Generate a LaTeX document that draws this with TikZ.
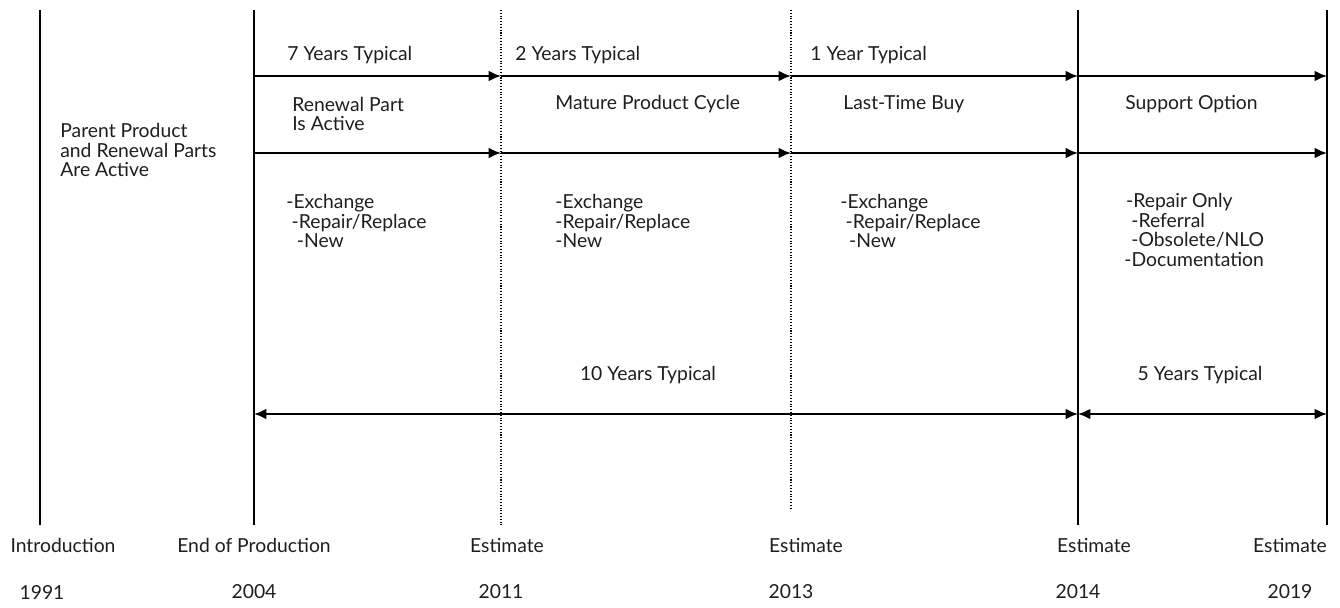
\documentclass[tikz,border=0pt]{standalone}
\usepackage{fontspec}
\setmainfont{Lato}
\usetikzlibrary{arrows.meta}
\definecolor{inktext}{RGB}{30, 30, 30}

\tikzset{
	phase/.style={line width=1.1pt, -{Latex[length=7pt, width=6pt]}},
	span/.style={line width=1.1pt, {Latex[length=7pt, width=6pt]}-{Latex[length=7pt, width=6pt]}},
	milestone/.style={line width=1.1pt},
	estimate/.style={line width=0.6pt, densely dotted},
	lbl/.style={anchor=west, inner sep=0pt, align=left, text=inktext, font=\fontsize{11}{11.2}\selectfont},
	tick/.style={inner sep=0pt, text=inktext, font=\fontsize{11}{11.2}\selectfont}
}

\begin{document}
\begin{tikzpicture}[x=0.02cm, y=-0.02cm]
			\useasboundingbox (0, 0) rectangle (1340, 608);
			% milestones
			\coordinate (intro) at (40, 0);
			\coordinate (eop) at (254, 0);
			\coordinate (est1) at (501, 0);
			\coordinate (est2) at (791, 0);
			\coordinate (est3) at (1078, 0);
			\coordinate (est4) at (1327, 0);
			\draw [milestone] (40, 10) -- (40, 525);
			\draw [milestone] (254, 10) -- (254, 525);
			\draw [estimate] (501, 10) -- (501, 525);
			\draw [estimate] (791, 10) -- (791, 510);
			\draw [milestone] (1078, 10) -- (1078, 525);
			\draw [milestone] (1327, 10) -- (1327, 525);

			% phase arrows
			\foreach \y in {76, 153}{
				\draw [phase] ([yshift=-\y*0.02cm]eop) -- ([yshift=-\y*0.02cm]est1);
				\draw [phase] ([yshift=-\y*0.02cm]est1) -- ([yshift=-\y*0.02cm]est2);
				\draw [phase] ([yshift=-\y*0.02cm]est2) -- ([yshift=-\y*0.02cm]est3);
				\draw [phase] ([yshift=-\y*0.02cm]est3) -- ([yshift=-\y*0.02cm]est4);
			}
			\draw [span] ([yshift=-414*0.02cm]eop) -- ([yshift=-414*0.02cm]est3);
			\draw [span] ([yshift=-414*0.02cm]est3) -- ([yshift=-414*0.02cm]est4);

			% durations
			\node [lbl] (dur1) at (287, 55) {7 Years Typical};
			\node [lbl] (dur2) at (515, 55) {2 Years Typical};
			\node [lbl] (dur3) at (810, 55) {1 Year Typical};
			\node [tick] (dur10) at (648, 375) {10 Years Typical};
			\node [tick] (dur5) at (1200, 375) {5 Years Typical};

			% phases
			\node [lbl] (parent) at (60, 150) {Parent Product\\and Renewal Parts\\Are Active};
			\node [lbl] (active) at (292, 114) {Renewal Part\\Is Active};
			\node [lbl] (mature) at (555, 104) {Mature Product Cycle};
			\node [lbl] (lastbuy) at (843, 104) {Last-Time Buy};
			\node [lbl] (support) at (1125, 104) {Support Option};

			% options
			\node [lbl] (opt1) at (286, 221) {-Exchange\\\hspace*{3pt}-Repair/Replace\\\hspace*{6pt}-New};
			\node [lbl] (opt2) at (555, 221) {-Exchange\\-Repair/Replace\\-New};
			\node [lbl] (opt3) at (840, 221) {-Exchange\\\hspace*{3pt}-Repair/Replace\\\hspace*{5pt}-New};
			\node [lbl] (opt4) at (1124, 230) {\hspace*{1pt}-Repair Only\\\hspace*{4pt}-Referral\\\hspace*{4pt}-Obsolete/NLO\\-Documentation};

			% dates
			\node [tick] (t1) at (63, 545) {Introduction};
			\node [tick] (t2) at (254, 545) {End of Production};
			\node [tick] (t3) at (507, 545) {Estimate};
			\node [tick] (t4) at (806, 545) {Estimate};
			\node [tick] (t5) at (1094, 545) {Estimate};
			\node [tick] (t6) at (1290, 545) {Estimate};
			\node [tick] (y1) at (42, 592) {1991};
			\node [tick] (y2) at (254, 592) {2004};
			\node [tick] (y3) at (501, 592) {2011};
			\node [tick] (y4) at (791, 592) {2013};
			\node [tick] (y5) at (1078, 592) {2014};
			\node [tick] (y6) at (1290, 592) {2019};
		\end{tikzpicture}
\end{document}
